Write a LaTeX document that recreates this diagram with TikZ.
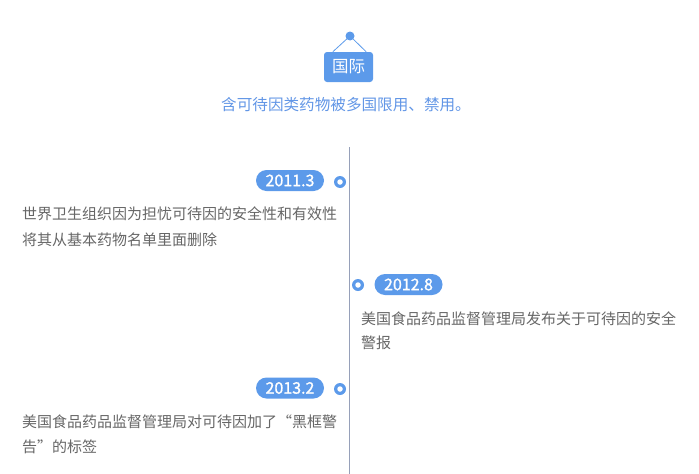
\documentclass[tikz,border=0pt]{standalone}
\usepackage{fontspec}
\setmainfont{Noto Sans CJK SC}
\newfontfamily\pillfont[FakeBold=1.2]{Noto Sans CJK SC}
\usetikzlibrary{calc}
\definecolor{tlblue}{RGB}{92,154,234}
\definecolor{subblue}{RGB}{98,150,230}
\definecolor{txtgray}{RGB}{102,102,102}
\definecolor{axis}{RGB}{150,160,185}
\tikzset{
  pill/.style={fill=tlblue, text=white, rounded corners=10.5pt, minimum width=68pt, minimum height=21pt, inner sep=0pt, font={\pillfont\fontsize{16}{17}\selectfont}},
  dotring/.style={circle, fill=tlblue, minimum size=12pt, inner sep=0pt},
  dothole/.style={circle, fill=white, minimum size=5.5pt, inner sep=0pt},
  body/.style={anchor=west, inner sep=0pt, text=txtgray, font={\fontsize{15}{25}\selectfont}},
}
\begin{document}
\begin{tikzpicture}[x=1pt,y=-1pt]
\useasboundingbox (0,0) rectangle (699,474);
% axis
\coordinate (axtop) at (349,147);
\coordinate (axbot) at (349,474);
\draw[axis, line width=0.8pt] (axtop) -- (axbot);
% hanging sign
\node[circle, fill=tlblue, minimum size=9pt, inner sep=0pt] (pin) at (350,36) {};
\node[fill=tlblue, rounded corners=3pt, minimum width=49pt, minimum height=30pt, inner sep=0pt, text=white, font={\fontsize{16.5}{18}\selectfont}] (sign) at (348.5,67) {国际};
\draw[tlblue, line width=0.8pt] ($(sign.north west)+(9,0)$) -- (pin.center) -- ($(sign.north east)+(-7,0)$);
\node[inner sep=0pt, text=subblue, font={\fontsize{15.6}{17}\selectfont}] (sub) at (346,105) {含可待因类药物被多国限用、禁用。};
% event 1
\node[dotring] (d1) at (340,182) {};
\node[dothole] (h1) at (d1.center) {};
\node[pill] (p1) at (290,180.5) {2011.3};
\node[body] (t1a) at (22,214) {世界卫生组织因为担忧可待因的安全性和有效性};
\node[body] (t1b) at (22,240) {将其从基本药物名单里面删除};
% event 2
\node[dotring] (d2) at (358,285) {};
\node[dothole] (h2) at (d2.center) {};
\node[pill] (p2) at (408.5,284.5) {2012.8};
\node[body] (t2a) at (361,319) {美国食品药品监督管理局发布关于可待因的安全};
\node[body] (t2b) at (361,343) {警报};
% event 3
\node[dotring] (d3) at (340,389) {};
\node[dothole] (h3) at (d3.center) {};
\node[pill] (p3) at (290,388) {2013.2};
\node[body] (t3a) at (22,422) {美国食品药品监督管理局对可待因加了“黑框警};
\node[body] (t3b) at (22,447) {告”的标签};
\end{tikzpicture}
\end{document}
